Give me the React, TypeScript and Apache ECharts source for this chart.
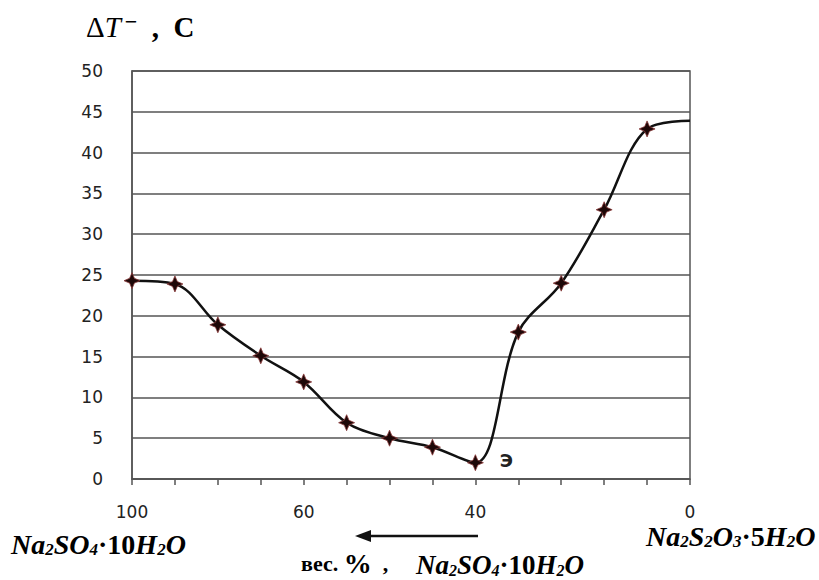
import React, { useEffect, useRef } from "react";
import * as echarts from "echarts";

const categories = ["100", "", "", "", "60", "", "", "", "40", "", "", "", "", "0"];
const deltaT = [24.3, 23.9, 18.9, 15.1, 11.9, 6.9, 5.0, 3.9, 2.0, 18.0, 24.0, 33.0, 42.9, 43.9];
const markedUntil = 12; // last point has no marker
const eutecticIndex = 8;
const eutecticLabel = "Э";
const yMin = 0;
const yMax = 50;
const yStep = 5;

const STAR = "path://M0,-10 L3,-3 L10,0 L3,3 L0,10 L-3,3 L-10,0 L-3,-3 Z";

const serif = "'Liberation Serif', 'DejaVu Serif', serif";

function formulaRich(size: number) {
  return {
    i: { fontFamily: serif, fontStyle: "italic", fontWeight: "bold", fontSize: size, color: "#111", lineHeight: size },
    n: { fontFamily: serif, fontStyle: "normal", fontWeight: "bold", fontSize: size, color: "#111", lineHeight: size },
    b: {
      fontFamily: serif,
      fontStyle: "italic",
      fontWeight: "bold",
      fontSize: Math.round(size * 0.6),
      color: "#111",
      verticalAlign: "bottom",
      lineHeight: Math.round(size * 0.5),
    },
  };
}

export default function App() {
  const ref = useRef<HTMLDivElement>(null);
  useEffect(() => {
    if (!ref.current) return;
    const chart = echarts.init(ref.current, null, { renderer: "svg" });
    const data = deltaT.map((v, i) => {
      const item: any = { value: v };
      if (i > markedUntil) item.symbol = "none";
      if (i === eutecticIndex) {
        item.label = {
          show: true,
          position: "right",
          distance: 16,
          formatter: eutecticLabel,
          fontFamily: "'DejaVu Sans', sans-serif",
          fontWeight: "bold",
          fontSize: 18,
          color: "#222",
          offset: [0, -2],
        };
      }
      return item;
    });
    chart.setOption({
      animation: false,
      backgroundColor: "#fff",
      grid: {
        left: 132,
        right: 129,
        top: 71,
        bottom: 101,
        containLabel: false,
        outerBoundsMode: "none",
        show: true,
        borderColor: "#555",
        borderWidth: 1.5,
        backgroundColor: "transparent",
      },
      xAxis: {
        type: "category",
        data: categories,
        boundaryGap: false,
        axisLine: { show: true, lineStyle: { color: "#555", width: 1.5 } },
        axisTick: { show: true, interval: 0, length: 6, inside: false, lineStyle: { color: "#555", width: 1.5 } },
        axisLabel: {
          interval: 0,
          margin: 24,
          fontFamily: "'DejaVu Sans', Verdana, sans-serif",
          fontSize: 17,
          color: "#222",
        },
        splitLine: { show: false },
      },
      yAxis: {
        type: "value",
        min: yMin,
        max: yMax,
        interval: yStep,
        axisLine: { show: true, lineStyle: { color: "#555", width: 1.5 } },
        axisTick: { show: false },
        axisLabel: {
          margin: 29,
          fontFamily: "'DejaVu Sans', Verdana, sans-serif",
          fontSize: 17,
          color: "#222",
        },
        splitLine: { show: true, lineStyle: { color: "#555", width: 1.5 } },
      },
      series: [
        {
          type: "line",
          data,
          smooth: 0.35,
          clip: false,
          symbol: STAR,
          symbolSize: 16,
          showSymbol: true,
          lineStyle: { color: "#111", width: 2.5 },
          itemStyle: { color: "#1e0808", borderColor: "#8a3a3a", borderWidth: 0.8 },
          z: 3,
        },
      ],
      graphic: [
        {
          type: "text",
          left: 86,
          top: 10,
          style: {
            text: "{d|Δ}{t|T}{s|−}{c|  ,  C}",
            rich: {
              d: { fontFamily: serif, fontSize: 29, fontWeight: "normal", color: "#111", lineHeight: 34 },
              t: { fontFamily: serif, fontSize: 29, fontStyle: "italic", fontWeight: "normal", color: "#111", lineHeight: 34 },
              s: { fontFamily: serif, fontSize: 22, fontWeight: "bold", color: "#111", verticalAlign: "top", lineHeight: 16, padding: [0, 0, 0, 4] },
              c: { fontFamily: serif, fontSize: 29, fontWeight: "bold", color: "#111", lineHeight: 34 },
            },
          },
        },
        {
          type: "text",
          left: 11,
          top: 530,
          style: {
            text: "{i|Na}{b|2}{i|SO}{b|4}{n|·10}{i|H}{b|2}{i|O}",
            rich: formulaRich(28),
          },
        },
        {
          type: "text",
          left: 646,
          top: 522,
          style: {
            text: "{i|Na}{b|2}{i|S}{b|2}{i|O}{b|3}{n|·5}{i|H}{b|2}{i|O}",
            rich: formulaRich(28),
          },
        },
        {
          type: "text",
          left: 301,
          top: 549,
          style: {
            text: "{a|вес. }{p|%}{a|  ,}",
            rich: {
              a: { fontFamily: serif, fontSize: 22, fontWeight: "bold", color: "#111", lineHeight: 24 },
              p: { fontFamily: serif, fontSize: 28, fontWeight: "bold", color: "#111", lineHeight: 24 },
            },
          },
        },
        {
          type: "text",
          left: 416,
          top: 551,
          style: {
            text: "{i|Na}{b|2}{i|SO}{b|4}{n|·10}{i|H}{b|2}{i|O}",
            rich: formulaRich(27),
          },
        },
        {
          type: "line",
          shape: { x1: 478, y1: 536, x2: 368, y2: 536 },
          style: { stroke: "#111", lineWidth: 2.5 },
        },
        {
          type: "polygon",
          shape: { points: [[355, 536], [371, 530], [371, 542]] },
          style: { fill: "#111" },
        },
      ],
    });
    return () => chart.dispose();
  }, []);
  return (
    <div
      ref={ref}
      style={{ position: "absolute", left: 0, top: 0, width: 819, height: 580, background: "#fff" }}
    />
  );
}
